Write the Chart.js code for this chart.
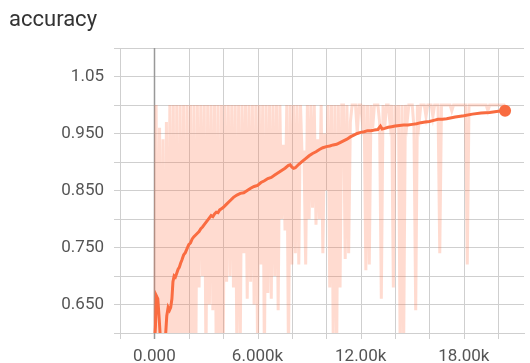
<!DOCTYPE html>
<html>
<head>
<meta charset="utf-8">
<script src="https://cdn.jsdelivr.net/npm/chart.js@4"></script>
<style>
  html, body { margin: 0; padding: 0; background: #fff; overflow: hidden; }
  #wrap { position: relative; width: 530px; height: 363px; }
  #title { position: absolute; left: 9px; top: 8px; font: 22px Roboto, "Liberation Sans", sans-serif; line-height: 22px; color: #333; }
  canvas { position: absolute; left: 0; top: 0; }
</style>
</head>
<body>
<div id="wrap">
  <canvas id="chart" width="530" height="363"></canvas>
  <div id="title">accuracy</div>
</div>
<script>
// raw accuracy, one value every 100 steps
const rawStep = 100;
const rawValues = [
  0.50, 1.00, 0.45, 0.96, 0.50, 0.94, 0.40, 0.97, 0.50, 1.00,
  0.55, 1.00, 0.50, 1.00, 0.45, 1.00, 0.55, 1.00, 0.50, 1.00,
  0.50, 1.00, 0.55, 1.00, 0.50, 1.00, 0.68, 1.00, 0.70, 1.00,
  0.55, 1.00, 0.65, 1.00, 0.64, 1.00, 0.55, 1.00, 0.50, 1.00,
  0.55, 1.00, 0.69, 1.00, 0.70, 1.00, 0.68, 1.00, 0.55, 1.00,
  0.60, 1.00, 0.74, 1.00, 0.66, 1.00, 0.69, 1.00, 0.65, 1.00,
  0.58, 1.00, 0.72, 1.00, 0.55, 1.00, 0.67, 1.00, 0.66, 1.00,
  0.70, 1.00, 0.64, 1.00, 0.80, 0.93, 0.78, 1.00, 0.55, 1.00,
  0.72, 1.00, 0.74, 1.00, 0.72, 1.00, 0.90, 0.92, 0.72, 1.00,
  0.80, 1.00, 0.82, 1.00, 0.79, 0.94, 0.80, 1.00, 0.74, 0.95,
  0.85, 1.00, 0.68, 1.00, 0.60, 1.00, 0.55, 1.00, 0.68, 1.00,
  1.00, 0.73, 1.00, 0.74, 0.97, 1.00, 1.00, 1.00, 0.95, 1.00,
  1.00, 0.97, 1.00, 0.71, 1.00, 0.72, 1.00, 0.96, 1.00, 1.00,
  1.00, 0.97, 0.66, 1.00, 0.96, 1.00, 1.00, 0.97, 1.00, 0.68,
  1.00, 0.96, 1.00, 0.55, 1.00, 0.58, 1.00, 0.97, 1.00, 1.00,
  1.00, 0.96, 0.64, 1.00, 0.97, 1.00, 1.00, 1.00, 0.98, 1.00,
  1.00, 1.00, 0.98, 1.00, 1.00, 1.00, 0.74, 1.00, 1.00, 1.00,
  1.00, 1.00, 1.00, 0.99, 1.00, 1.00, 1.00, 1.00, 1.00, 1.00,
  1.00, 1.00, 0.72, 1.00, 1.00, 1.00, 1.00, 1.00, 1.00, 1.00,
  1.00, 1.00, 1.00, 1.00, 0.99, 1.00, 1.00, 1.00, 1.00, 1.00,
  1.00, 1.00, 1.00, 1.00, 1.00
];

// smoothed curve
const smoothSteps = [
  0, 60, 120, 200, 280, 350, 450, 550, 650, 720, 800, 880, 950, 1020, 1080, 1150,
  1220, 1300, 1380, 1450, 1520, 1600, 1700, 1800, 1900, 2000, 2100, 2200, 2300,
  2400, 2500, 2600, 2700, 2800, 2900, 3000, 3100, 3200, 3300, 3400, 3500, 3600,
  3700, 3800, 3900, 4000, 4200, 4400, 4600, 4800, 5000, 5200, 5400, 5600, 5800,
  6000, 6200, 6400, 6600, 6800, 7000, 7200, 7400, 7600, 7800, 7900, 8000, 8100,
  8200, 8400, 8600, 8800, 9000, 9200, 9400, 9600, 9800, 10000, 10200, 10400,
  10600, 10800, 11000, 11200, 11400, 11600, 11800, 12000, 12200, 12400, 12600,
  12800, 13000, 13150, 13250, 13400, 13600, 13800, 14000, 14250, 14500, 14750,
  15000, 15250, 15500, 15750, 16000, 16250, 16500, 16750, 17000, 17500, 18000,
  18500, 19000, 19500, 20000, 20400
];
const smoothValues = [
  0.58, 0.61, 0.665, 0.66, 0.625, 0.59, 0.585, 0.59, 0.595, 0.63, 0.645, 0.64, 0.645, 0.66, 0.69, 0.70,
  0.698, 0.705, 0.712, 0.715, 0.722, 0.728, 0.737, 0.741, 0.748, 0.755, 0.758, 0.765, 0.769,
  0.772, 0.775, 0.778, 0.783, 0.786, 0.79, 0.794, 0.798, 0.802, 0.806, 0.804, 0.809, 0.812,
  0.811, 0.816, 0.818, 0.82, 0.826, 0.832, 0.838, 0.842, 0.845, 0.846, 0.85, 0.854, 0.857,
  0.859, 0.864, 0.867, 0.871, 0.873, 0.877, 0.881, 0.885, 0.889, 0.894, 0.895, 0.891, 0.889,
  0.89, 0.896, 0.901, 0.906, 0.911, 0.915, 0.918, 0.922, 0.925, 0.927, 0.928, 0.93,
  0.931, 0.934, 0.937, 0.94, 0.944, 0.947, 0.95, 0.952, 0.953, 0.955, 0.955,
  0.956, 0.957, 0.963, 0.958, 0.959, 0.961, 0.962, 0.963, 0.964, 0.965, 0.965,
  0.966, 0.967, 0.969, 0.97, 0.971, 0.973, 0.975, 0.975, 0.976, 0.979, 0.981,
  0.984, 0.986, 0.987, 0.989, 0.99
];

// grid positions and labelled ticks
const xGridSteps = [-2000, 0, 2000, 4000, 6000, 8000, 10000, 12000, 14000, 16000, 18000, 20000];
const xLabelValues = [0, 6000, 12000, 18000];
const xLabelTexts = ["0.000", "6.000k", "12.00k", "18.00k"];
const yGridValues = [0.6, 0.65, 0.7, 0.75, 0.8, 0.85, 0.9, 0.95, 1.0, 1.05, 1.1];
const yLabelValues = [0.65, 0.75, 0.85, 0.95, 1.05];
const yLabelTexts = ["0.650", "0.750", "0.850", "0.950", "1.05"];

const rawData = rawValues.map((v, i) => ({ x: i * rawStep, y: v }));
const smoothData = smoothSteps.map((s, i) => ({ x: s, y: smoothValues[i] }));
const lastIdx = smoothData.length - 1;

function findLabel(values, texts, v) {
  for (let i = 0; i < values.length; i++) {
    if (Math.abs(values[i] - v) < 1e-6) return texts[i];
  }
  return "";
}

const tickFont = { family: "Roboto, 'Liberation Sans', sans-serif", size: 17 };
const gridColor = "#cfcfcf";

// vertical grid lines drawn from the x scale (the step-0 line is darker)
const xGridPlugin = {
  id: "xGrid",
  beforeDatasetsDraw(chart) {
    const { ctx, chartArea, scales } = chart;
    ctx.save();
    xGridSteps.forEach(v => {
      const px = Math.round(scales.x.getPixelForValue(v)) + 0.5;
      ctx.beginPath();
      ctx.strokeStyle = v === 0 ? "#999" : gridColor;
      ctx.lineWidth = v === 0 ? 1.5 : 1;
      ctx.moveTo(px, chartArea.top);
      ctx.lineTo(px, chartArea.bottom + 6);
      ctx.stroke();
    });
    ctx.restore();
  }
};

new Chart(document.getElementById("chart"), {
  type: "line",
  data: {
    datasets: [
      {
        data: rawData,
        borderColor: "rgba(255,112,67,0.25)",
        borderWidth: 3,
        pointRadius: 0,
        tension: 0
      },
      {
        data: smoothData,
        borderColor: "#f86b40",
        backgroundColor: "#f86b40",
        borderWidth: 3,
        tension: 0,
        pointRadius: ctx => (ctx.dataIndex === lastIdx ? 6 : 0),
        pointBorderWidth: 0
      }
    ]
  },
  plugins: [xGridPlugin],
  options: {
    responsive: false,
    animation: false,
    devicePixelRatio: 1,
    layout: { padding: { top: 48, right: 2, left: 0, bottom: 0 } },
    plugins: { legend: { display: false }, tooltip: { enabled: false } },
    scales: {
      x: {
        type: "linear",
        min: -2000,
        max: 21500,
        afterBuildTicks: scale => {
          scale.ticks = xGridSteps.map(v => ({ value: v }));
        },
        afterFit: scale => { scale.height = 30; },
        ticks: {
          autoSkip: false,
          maxRotation: 0,
          padding: 8,
          color: "#555",
          font: tickFont,
          callback: v => findLabel(xLabelValues, xLabelTexts, v)
        },
        grid: { display: false, tickLength: 6 },
        border: { color: gridColor }
      },
      y: {
        min: 0.6,
        max: 1.1,
        afterBuildTicks: scale => {
          scale.ticks = yGridValues.map(v => ({ value: v }));
        },
        afterFit: scale => { scale.width = 120; },
        ticks: {
          autoSkip: false,
          padding: 10,
          color: "#555",
          font: tickFont,
          callback: v => findLabel(yLabelValues, yLabelTexts, v)
        },
        grid: { color: gridColor, tickLength: 6 },
        border: { color: gridColor }
      }
    }
  }
});
</script>
</body>
</html>
